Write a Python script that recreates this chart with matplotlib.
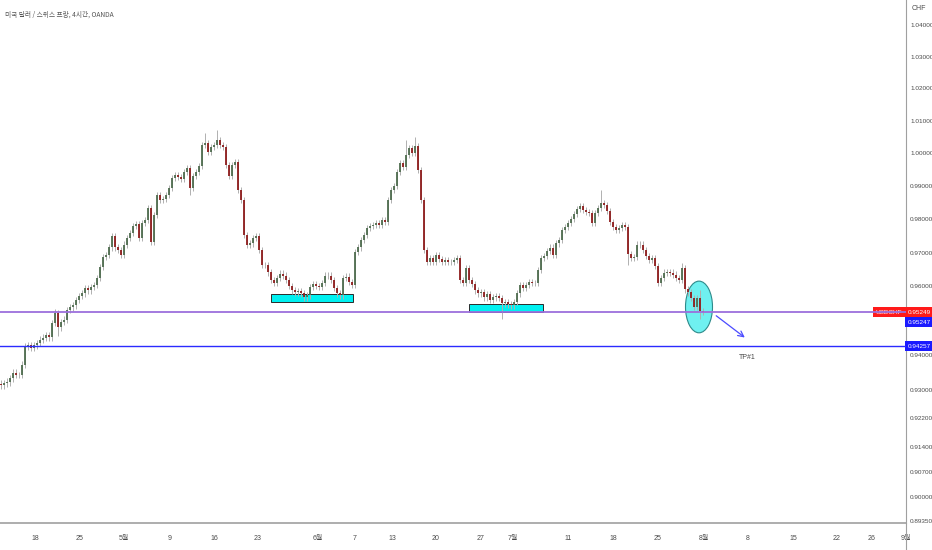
import matplotlib
matplotlib.use('Agg')
import matplotlib.pyplot as plt
from matplotlib.patches import Rectangle, Ellipse
from matplotlib.lines import Line2D
from matplotlib.ticker import FixedLocator, NullLocator
import matplotlib.transforms as mtransforms
from matplotlib import font_manager

plt.rcParams['font.family'] = ['Noto Sans CJK KR', 'DejaVu Sans']

names = {f.name for f in font_manager.fontManager.ttflist}
NARROW = ['Liberation Sans Narrow'] if 'Liberation Sans Narrow' in names else ['Liberation Sans']

# USD/CHF 4h closes (~2 candles per entry)
closes = [
    0.9314, 0.9320, 0.9323, 0.9334, 0.9349, 0.9343, 0.9343, 0.9372, 0.9426, 0.9429,
    0.9421, 0.9429, 0.9435, 0.9444, 0.9450, 0.9458, 0.9452, 0.9493, 0.9522, 0.9481,
    0.9496, 0.9502, 0.9531, 0.9539, 0.9545, 0.9560, 0.9572, 0.9580, 0.9595, 0.9589,
    0.9598, 0.9604, 0.9625, 0.9657, 0.9687, 0.9693, 0.9716, 0.9749, 0.9716, 0.9708,
    0.9693, 0.9723, 0.9743, 0.9758, 0.9779, 0.9785, 0.9743, 0.9788, 0.9797, 0.9833,
    0.9731, 0.9812, 0.9872, 0.9857, 0.9860, 0.9872, 0.9894, 0.9924, 0.9933, 0.9927,
    0.9921, 0.9942, 0.9954, 0.9894, 0.9930, 0.9942, 0.9960, 1.0025, 1.0031, 1.0003,
    1.0019, 1.0025, 1.0040, 1.0025, 1.0019, 0.9964, 0.9930, 0.9964, 0.9973, 0.9888,
    0.9857, 0.9752, 0.9723, 0.9728, 0.9743, 0.9749, 0.9708, 0.9663, 0.9663, 0.9642,
    0.9619, 0.9610, 0.9625, 0.9637, 0.9631, 0.9619, 0.9601, 0.9589, 0.9583, 0.9586,
    0.9580, 0.9568, 0.9574, 0.9598, 0.9607, 0.9601, 0.9598, 0.9610, 0.9631, 0.9631,
    0.9619, 0.9595, 0.9580, 0.9574, 0.9625, 0.9628, 0.9613, 0.9604, 0.9702, 0.9716,
    0.9737, 0.9752, 0.9773, 0.9779, 0.9782, 0.9788, 0.9782, 0.9797, 0.9791, 0.9857,
    0.9888, 0.9900, 0.9942, 0.9970, 0.9957, 0.9994, 1.0016, 1.0000, 1.0022, 0.9948,
    0.9857, 0.9708, 0.9672, 0.9684, 0.9672, 0.9693, 0.9681, 0.9672, 0.9678, 0.9672,
    0.9672, 0.9678, 0.9684, 0.9619, 0.9610, 0.9654, 0.9619, 0.9607, 0.9589, 0.9580,
    0.9583, 0.9568, 0.9577, 0.9560, 0.9568, 0.9571, 0.9566, 0.9551, 0.9554, 0.9548,
    0.9545, 0.9554, 0.9580, 0.9604, 0.9595, 0.9604, 0.9613, 0.9610, 0.9610, 0.9648,
    0.9684, 0.9690, 0.9705, 0.9714, 0.9693, 0.9728, 0.9737, 0.9767, 0.9776, 0.9788,
    0.9800, 0.9815, 0.9830, 0.9839, 0.9827, 0.9821, 0.9818, 0.9788, 0.9818, 0.9833,
    0.9848, 0.9842, 0.9824, 0.9791, 0.9776, 0.9767, 0.9773, 0.9782, 0.9776, 0.9696,
    0.9684, 0.9687, 0.9723, 0.9723, 0.9708, 0.9690, 0.9678, 0.9684, 0.9660, 0.9610,
    0.9625, 0.9640, 0.9642, 0.9640, 0.9634, 0.9625, 0.9619, 0.9654, 0.9592, 0.9583,
    0.9566, 0.9540, 0.9566, 0.9528, 0.9525,
]
first_open = 0.9318

# long wicks seen on the chart: candle -> extreme
high_spikes = {18: 0.9534, 68: 1.0062, 72: 1.0071, 135: 1.0040, 138: 1.0049,
               200: 0.9888, 227: 0.9668, 233: 0.9590}
low_spikes = {19: 0.9455, 50: 0.9723, 63: 0.9872, 146: 0.9700, 167: 0.9506,
              209: 0.9663, 233: 0.9506}
WICK = 0.0010

last_price = 0.95249
last_price2 = 0.95247
tp_price = 0.94257

date_pos = [11.33, 26.33, 41, 56.33, 71, 85.67, 105.67, 118, 130.33, 145, 160,
            170.67, 189, 204, 219, 234.33, 249, 264, 278.67, 290.33, 301.67]
date_labels = ['18', '25', '5월', '9', '16', '23', '6월', '7', '13', '20', '27',
               '7월', '11', '18', '25', '8월', '8', '15', '22', '26', '9월']

price_ticks = [1.04, 1.03, 1.02, 1.01, 1.00, 0.99, 0.98, 0.97, 0.96, 0.94,
               0.93, 0.922, 0.914, 0.907, 0.90, 0.8935]

# drawn zones (candle index, price)
zone1 = (90, 0.9554, 27.3, 0.0024)
zone2 = (156, 0.9525, 24.7, 0.0023)
circle = (232.67, 0.9540, 9.0, 0.0151)
arrow_from = (237.67, 0.9519)
arrow_to = (248.67, 0.9446)

opens = [first_open] + closes[:-1]
idx = list(range(len(closes)))
highs = []
lows = []
for i in idx:
    h = max(opens[i], closes[i]) + WICK
    l = min(opens[i], closes[i]) - WICK
    highs.append(max(h, high_spikes.get(i, h)))
    lows.append(min(l, low_spikes.get(i, l)))
colors = ['#4e6c4e' if closes[i] >= opens[i] else '#8e1b1b' for i in idx]

fig = plt.figure(figsize=(9.32, 5.5), dpi=100)
ax = fig.add_axes([0, 27 / 550, 906 / 932, 523 / 550])
ax.set_yscale('log')
ax.set_ylim(0.8929, 1.0480)
ax.set_xlim(-1 / 3, 905 / 3)

# zones behind candles
ax.add_patch(Rectangle(zone1[:2], zone1[2], zone1[3], fc='#00f0f0', ec='#2a2a2a', lw=0.7, zorder=2))
ax.add_patch(Rectangle(zone2[:2], zone2[2], zone2[3], fc='#00f0f0', ec='#2a2a2a', lw=0.7, zorder=2))
ax.add_patch(Ellipse(circle[:2], circle[2], circle[3], fc='#6ff0f0', ec='#2e8a8a', lw=0.8, zorder=2))

ax.vlines(idx, lows, highs, color='#b0b0b0', lw=0.7, zorder=3)
ax.vlines(idx, opens, closes, colors=colors, lw=1.3, zorder=4)

ax.axhline(last_price, color='#9c6fdc', lw=1.3, zorder=5)
ax.axhline(tp_price, color='#2b2bff', lw=1.0, zorder=5)

ax.annotate('', xy=arrow_to, xytext=arrow_from,
            arrowprops=dict(arrowstyle='->', color='#4b4bff', lw=0.9), zorder=6)
ax.text(arrow_to[0], 0.9392, 'TP#1', fontsize=5, color='#444444', ha='center', va='center',
        family=NARROW)

# axes styling
for s in ['top', 'left']:
    ax.spines[s].set_visible(False)
ax.spines['right'].set_color('#a0a0a0')
ax.spines['bottom'].set_color('#a0a0a0')
ax.spines['bottom'].set_linewidth(1.2)

ax.yaxis.tick_right()
ax.yaxis.set_major_locator(FixedLocator(price_ticks))
ax.yaxis.set_minor_locator(NullLocator())
ax.set_yticklabels(['%.5f' % t for t in price_ticks], family=NARROW)
ax.tick_params(axis='y', length=0, pad=3, labelsize=4.6, labelcolor='#4a4a4a')
ax.set_xticks(date_pos)
ax.set_xticklabels(date_labels, family=NARROW + ['Noto Sans CJK KR'])
ax.tick_params(axis='x', length=0, pad=9, labelsize=5, labelcolor='#4a4a4a')

# price tags on the scale
trans = mtransforms.blended_transform_factory(ax.transAxes, ax.transData)
tag = dict(fontsize=4.6, color='white', va='center', family=NARROW)
ax.text(1.002, last_price, '%.5f' % last_price, transform=trans, ha='left',
        bbox=dict(boxstyle='square,pad=0.4', fc='#ff1a1a', ec='none'), **tag)
ax.annotate('%.5f' % last_price2, xy=(1.002, last_price), xycoords=trans,
            xytext=(0, -7.4), textcoords='offset points', ha='left',
            bbox=dict(boxstyle='square,pad=0.4', fc='#1a1aff', ec='none'), **tag)
ax.text(1.002, tp_price, '%.5f' % tp_price, transform=trans, ha='left',
        bbox=dict(boxstyle='square,pad=0.4', fc='#1a1aff', ec='none'), **tag)
ax.text(0.996, last_price, 'USDCHF', transform=trans, ha='right',
        bbox=dict(boxstyle='square,pad=0.4', fc='#ff1a1a', ec='none'), **tag)

fig.add_artist(Line2D([906 / 932, 906 / 932], [0, 27 / 550], color='#a0a0a0', lw=0.8))
fig.text(5 / 932, 1 - 15 / 550, '미국 달러 / 스위스 프랑, 4시간, OANDA', fontsize=4.8,
         color='#555555', va='center')
fig.text(912 / 932, 1 - 8 / 550, 'CHF', fontsize=5, color='#4a4a4a', va='center', family=NARROW)

fig.savefig('out.png', dpi=100)
